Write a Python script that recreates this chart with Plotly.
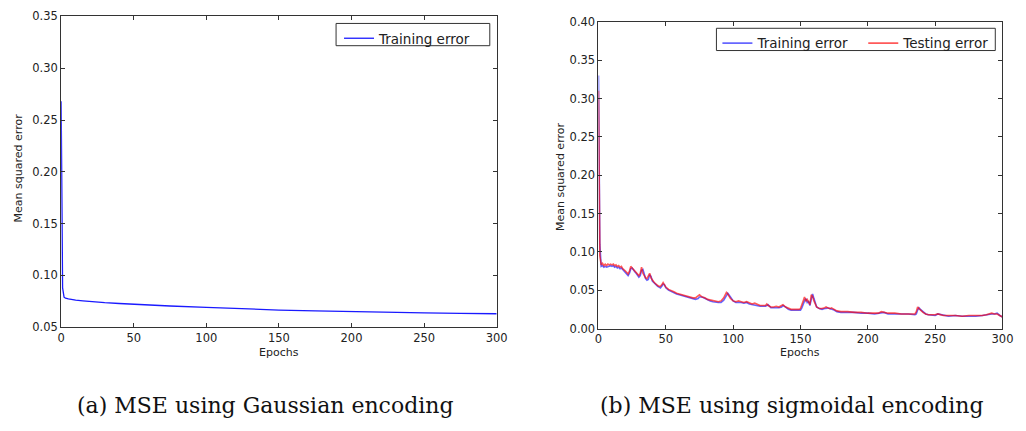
import plotly.graph_objects as go

# ---- data: (a) Gaussian encoding ----
epochs_a = [0, 1, 2, 3, 5, 8, 10, 15, 20, 25, 30, 40, 50, 60, 75, 100, 125, 150, 175, 200, 225, 250, 275, 300]
train_a = [0.268, 0.088, 0.079, 0.078, 0.0774, 0.0765, 0.0762, 0.0755, 0.0748, 0.0742, 0.0737, 0.0729, 0.0721, 0.0714, 0.0705, 0.0692, 0.0678, 0.0666, 0.0658, 0.0650, 0.0643, 0.0638, 0.0634, 0.0630]

# ---- data: (b) sigmoidal encoding ----
epochs_b = [0, 1, 2, 3, 4, 5, 6, 7, 8, 9, 10, 11, 12, 13, 14, 15, 16, 17, 18, 19,
            20, 21, 22, 23, 24, 25, 26, 27, 28, 29, 30, 31, 32, 33, 34, 35, 36, 37, 38, 39,
            40, 41, 42, 43, 44, 45, 46, 47, 48, 49, 50, 52, 54, 56, 58, 60, 62, 64, 66, 68,
            70, 72, 74, 75, 77, 79, 81, 83, 85, 87, 89, 91, 93, 95, 96, 98, 100, 102, 104, 106,
            108, 110, 112, 114, 116, 118, 120, 122, 124, 125, 126, 128, 130, 132, 134, 136, 137, 139, 141, 143,
            145, 147, 149, 150, 151, 152, 153, 154, 155, 156, 157, 158, 159, 160, 161, 162, 164, 166, 168, 169,
            170, 172, 173, 175, 177, 180, 185, 190, 195, 200, 205, 208, 210, 212, 215, 220, 225, 230, 235, 236,
            237, 238, 239, 241, 243, 245, 248, 250, 252, 254, 256, 260, 265, 270, 275, 280, 285, 288, 290, 292,
            294, 296, 298, 300]
test_b = [0.310, 0.095, 0.083, 0.085, 0.082, 0.084, 0.082, 0.084, 0.083, 0.084, 0.083, 0.084, 0.082, 0.083, 0.081, 0.082, 0.080, 0.081, 0.078, 0.077,
          0.075, 0.073, 0.071, 0.075, 0.081, 0.079, 0.077, 0.075, 0.073, 0.071, 0.069, 0.072, 0.080, 0.072, 0.068, 0.066, 0.065, 0.068, 0.072, 0.066,
          0.063, 0.061, 0.059, 0.057, 0.056, 0.055, 0.055, 0.057, 0.060, 0.057, 0.054, 0.051, 0.050, 0.048, 0.046, 0.045, 0.044, 0.043, 0.042, 0.041,
          0.040, 0.040, 0.042, 0.044, 0.041, 0.040, 0.038, 0.037, 0.036, 0.035, 0.035, 0.036, 0.040, 0.047, 0.045, 0.039, 0.036, 0.035, 0.036, 0.035,
          0.034, 0.035, 0.033, 0.032, 0.033, 0.031, 0.030, 0.030, 0.030, 0.032, 0.030, 0.028, 0.028, 0.029, 0.028, 0.030, 0.031, 0.028, 0.026, 0.025,
          0.025, 0.025, 0.025, 0.026, 0.030, 0.036, 0.041, 0.036, 0.038, 0.034, 0.031, 0.044, 0.042, 0.036, 0.031, 0.028, 0.026, 0.026, 0.027, 0.028,
          0.027, 0.026, 0.027, 0.025, 0.023, 0.022, 0.022, 0.021, 0.021, 0.020, 0.020, 0.020, 0.022, 0.021, 0.020, 0.020, 0.019, 0.019, 0.019, 0.022,
          0.028, 0.026, 0.024, 0.021, 0.019, 0.018, 0.018, 0.018, 0.019, 0.018, 0.017, 0.017, 0.017, 0.016, 0.017, 0.017, 0.017, 0.018, 0.019, 0.020,
          0.019, 0.019, 0.017, 0.015]
train_b = [0.330, 0.110, 0.081, 0.082, 0.080, 0.081, 0.080, 0.081, 0.081, 0.082, 0.081, 0.082, 0.080, 0.081, 0.079, 0.080, 0.078, 0.079, 0.077, 0.075,
           0.073, 0.071, 0.069, 0.072, 0.078, 0.079, 0.076, 0.074, 0.072, 0.070, 0.067, 0.069, 0.076, 0.077, 0.069, 0.065, 0.063, 0.064, 0.070, 0.068,
           0.062, 0.060, 0.058, 0.056, 0.055, 0.054, 0.053, 0.055, 0.058, 0.057, 0.053, 0.050, 0.048, 0.046, 0.045, 0.044, 0.043, 0.042, 0.041, 0.040,
           0.039, 0.038, 0.039, 0.041, 0.041, 0.039, 0.037, 0.036, 0.035, 0.034, 0.034, 0.034, 0.037, 0.043, 0.046, 0.041, 0.036, 0.034, 0.034, 0.034,
           0.033, 0.034, 0.032, 0.031, 0.031, 0.030, 0.029, 0.029, 0.029, 0.030, 0.031, 0.027, 0.027, 0.027, 0.027, 0.028, 0.030, 0.028, 0.025, 0.024,
           0.024, 0.024, 0.024, 0.024, 0.027, 0.032, 0.036, 0.039, 0.034, 0.036, 0.030, 0.038, 0.045, 0.039, 0.033, 0.028, 0.026, 0.025, 0.026, 0.026,
           0.027, 0.026, 0.025, 0.024, 0.022, 0.021, 0.021, 0.021, 0.020, 0.020, 0.019, 0.020, 0.021, 0.021, 0.019, 0.019, 0.019, 0.019, 0.018, 0.019,
           0.024, 0.027, 0.025, 0.022, 0.019, 0.018, 0.017, 0.017, 0.019, 0.018, 0.017, 0.016, 0.017, 0.016, 0.016, 0.016, 0.017, 0.018, 0.018, 0.019,
           0.019, 0.020, 0.017, 0.015]

xticks = [0, 50, 100, 150, 200, 250, 300]
yticks_a = [0.05, 0.10, 0.15, 0.20, 0.25, 0.30, 0.35]
yticks_b = [0.00, 0.05, 0.10, 0.15, 0.20, 0.25, 0.30, 0.35, 0.40]

series_names = ["Training error", "Testing error"]
captions = ["(a) MSE using Gaussian encoding", "(b) MSE using sigmoidal encoding"]
x_title = "Epochs"
y_title = "Mean squared error"

W, H = 1026, 431

fig = go.Figure()
fig.add_trace(go.Scatter(x=epochs_a, y=train_a, mode="lines", name=series_names[0],
                         line=dict(color="#1a1aff", width=1.3), xaxis="x", yaxis="y", legend="legend"))
fig.add_trace(go.Scatter(x=epochs_b, y=train_b, mode="lines", name=series_names[0],
                         line=dict(color="rgba(0,0,255,0.6)", width=1.6), xaxis="x2", yaxis="y2", legend="legend2"))
fig.add_trace(go.Scatter(x=epochs_b, y=test_b, mode="lines", name=series_names[1],
                         line=dict(color="rgba(255,0,0,0.65)", width=1.6), xaxis="x2", yaxis="y2", legend="legend3"))

tickfont = dict(family="DejaVu Sans", size=11.5, color="#222")
ax_common = dict(showline=True, linecolor="#333", linewidth=1, mirror="ticks", ticks="inside",
                 ticklen=4, tickcolor="#333", showgrid=False, zeroline=False, tickfont=tickfont)

legfont = dict(family="DejaVu Sans", size=13.5, color="#222")
leg_common = dict(xanchor="left", yanchor="top", borderwidth=0, bgcolor="rgba(0,0,0,0)",
                  font=legfont, itemwidth=30)
fig.update_layout(
    width=W, height=H, margin=dict(l=0, r=0, t=0, b=0),
    paper_bgcolor="white", plot_bgcolor="white",
    xaxis=dict(domain=[58/W, 500/W], range=[0, 300], tickvals=xticks, anchor="y", **ax_common),
    yaxis=dict(domain=[1-331/H, 1-9.7/H], range=[0.05, 0.35], tickvals=yticks_a, tickformat=".2f", anchor="x", **ax_common),
    xaxis2=dict(domain=[603.3/W, 1013.3/W], range=[0, 300], tickvals=xticks, anchor="y2", **ax_common),
    yaxis2=dict(domain=[1-332.3/H, 1-15.3/H], range=[0, 0.40], tickvals=yticks_b, tickformat=".2f", anchor="x2", **ax_common),
    legend=dict(x=340/W, y=1-16.5/H, **leg_common),
    legend2=dict(x=724/W, y=1-21.5/H, **leg_common),
    legend3=dict(x=872/W, y=1-21.5/H, **leg_common),
    showlegend=True,
)

# legend frames (matplotlib-style boxes)
box = dict(type="rect", xref="paper", yref="paper", line=dict(color="#333", width=1),
           fillcolor="white", layer="above")
fig.add_shape(x0=337/W, x1=493/W, y0=1-40/H, y1=1-17/H, **box)
fig.add_shape(x0=723/W, x1=1006/W, y0=1-45/H, y1=1-22/H, **box)

ann_font = dict(family="DejaVu Sans", size=11, color="#222")
cap_font = dict(family="DejaVu Serif", size=22, color="#111")
annotations = [
    dict(text=x_title, x=279/W, y=1-357/H, font=ann_font),
    dict(text=x_title, x=808/W, y=1-357/H, font=ann_font),
    dict(text=y_title, x=15/W, y=1-166/H, textangle=-90, font=ann_font),
    dict(text=y_title, x=565/W, y=1-175/H, textangle=-90, font=ann_font),
    dict(text=captions[0], x=265/W, y=1-412/H, font=cap_font),
    dict(text=captions[1], x=800/W, y=1-412/H, font=cap_font),
]
for a in annotations:
    a.update(xref="paper", yref="paper", showarrow=False, xanchor="center", yanchor="middle")
fig.update_layout(annotations=annotations)

fig.write_html("out.html")
